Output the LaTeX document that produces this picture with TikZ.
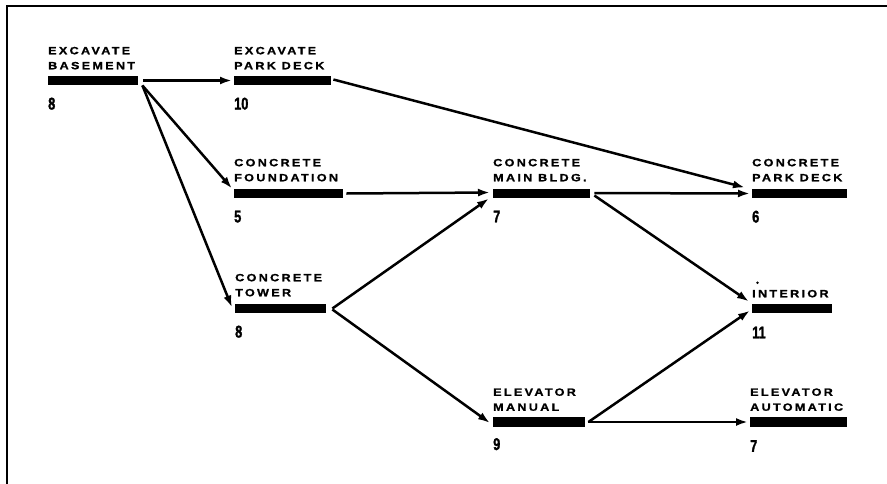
\documentclass[tikz,border=0pt]{standalone}
\usepackage{fontspec}
\usetikzlibrary{arrows.meta,calc}
\newfontfamily\lblfont[FakeStretch=1.2,LetterSpace=22,FakeBold=1.2]{Liberation Sans}
\newfontfamily\numfont[FakeStretch=0.75,FakeBold=1.5]{Liberation Sans}
\tikzset{
  barbox/.style={rectangle,fill=black,minimum height=9.5pt,inner sep=0pt,anchor=west},
  lbl/.style={anchor=south west,inner sep=0pt,align=left,font=\lblfont\bfseries\fontsize{10.5}{15}\selectfont},
  num/.style={anchor=north west,inner sep=0pt,font=\numfont\bfseries\fontsize{17}{17}\selectfont},
  arr/.style={line width=2.5pt,-{Latex[length=12pt,width=8pt]}},
}
\begin{document}
\begin{tikzpicture}[x=1pt,y=-1pt]
\useasboundingbox (0,0) rectangle (887,483);
\draw[line width=2.4pt] (890,6) -- (7,6) -- (7,486);
% bars
\node[barbox,minimum width=90pt] (eb) at (48,80.5) {};
\node[barbox,minimum width=97pt] (epd) at (234,80.5) {};
\node[barbox,minimum width=109pt] (cf) at (234,193.5) {};
\node[barbox,minimum width=91pt] (ct) at (235,308.5) {};
\node[barbox,minimum width=97pt] (cmb) at (493,193.5) {};
\node[barbox,minimum width=95pt] (cpd) at (752,193.5) {};
\node[barbox,minimum width=80pt] (int) at (752,308.5) {};
\node[barbox,minimum width=92pt] (em) at (493,422) {};
\node[barbox,minimum width=97pt] (ea) at (750,422) {};
% labels
\node[lbl] (ebl) at ($(eb.north west)+(0,-6)$) {EXCAVATE\\BASEMENT};
\node[lbl] (epdl) at ($(epd.north west)+(0,-6)$) {EXCAVATE\\PARK DECK};
\node[lbl] (cfl) at ($(cf.north west)+(0,-7)$) {CONCRETE\\FOUNDATION};
\node[lbl] (ctl) at ($(ct.north west)+(0,-7)$) {CONCRETE\\TOWER};
\node[lbl] (cmbl) at ($(cmb.north west)+(0,-7)$) {CONCRETE\\MAIN BLDG.};
\node[lbl] (cpdl) at ($(cpd.north west)+(0,-7)$) {CONCRETE\\PARK DECK};
\node[lbl] (intl) at ($(int.north west)+(0,-6)$) {INTERIOR};
\node[lbl] (eml) at ($(em.north west)+(0,-6)$) {ELEVATOR\\MANUAL};
\node[lbl] (eal) at ($(ea.north west)+(0,-6)$) {ELEVATOR\\AUTOMATIC};
\fill ($(intl.north west)+(5.5,-7)$) circle (1.3pt);
% numbers
\node[num] (ebn) at ($(eb.south west)+(0,12)$) {8};
\node[num] (epdn) at ($(epd.south west)+(0,12)$) {10};
\node[num] (cfn) at ($(cf.south west)+(0,12)$) {5};
\node[num] (ctn) at ($(ct.south west)+(0,12)$) {8};
\node[num] (cmbn) at ($(cmb.south west)+(0,12)$) {7};
\node[num] (cpdn) at ($(cpd.south west)+(0,12)$) {6};
\node[num] (intn) at ($(int.south west)+(0,13)$) {11};
\node[num] (emn) at ($(em.south west)+(0,11)$) {9};
\node[num] (ean) at ($(ea.south west)+(0,13)$) {7};
% connectors
\draw[arr] ($(eb.east)+(5,0)$) -- ($(epd.west)+(-2,0)$);
\draw[arr] ($(eb.south east)+(4,0)$) -- ($(cf.north west)+(-2,0)$);
\draw[arr] ($(eb.south east)+(4,0)$) -- ($(ct.west)+(-3,-1)$);
\draw[arr] ($(epd.east)+(2,-1)$) -- ($(cpd.north west)+(-7,-1)$);
\draw[arr] ($(cf.east)+(3,0)$) -- ($(cmb.west)+(-3,-1)$);
\draw[arr] ($(ct.east)+(6,0)$) -- ($(cmb.south west)+(-4,0)$);
\draw[arr] ($(ct.east)+(6,1)$) -- ($(em.west)+(-3,1)$);
\draw[arr] ($(cmb.east)+(4,-0.5)$) -- ($(cpd.west)+(-2,0)$);
\draw[arr] ($(cmb.east)+(4,2)$) -- ($(int.north west)+(-3,-2)$);
\draw[arr] ($(em.east)+(3,0)$) -- ($(int.west)+(-2,2)$);
\draw[arr] ($(em.east)+(3,0)$) -- ($(ea.west)+(-2,0)$);
\end{tikzpicture}
\end{document}
